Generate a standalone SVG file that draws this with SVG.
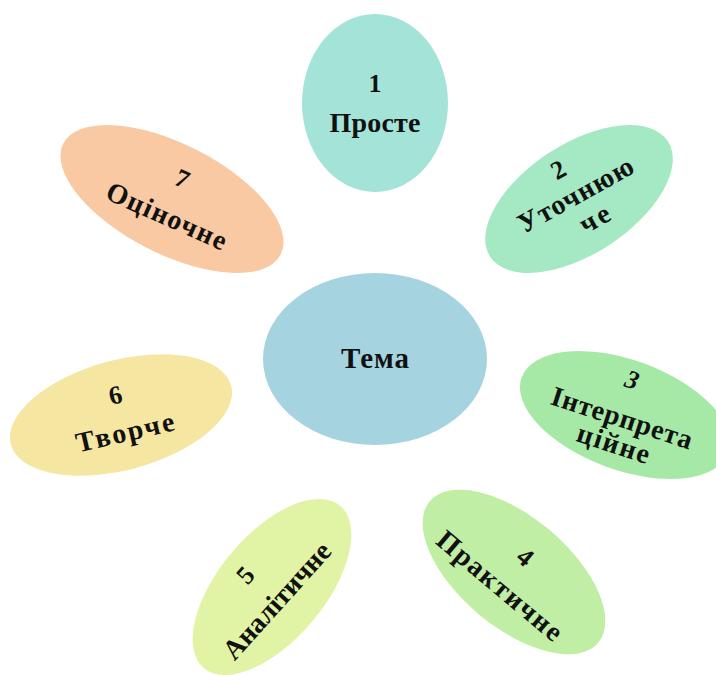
<svg xmlns="http://www.w3.org/2000/svg" width="716" height="675" viewBox="0 0 716 675">
<style>
text{font-family:"Liberation Serif","Times New Roman",serif;font-weight:bold;font-size:28px;fill:#111;text-anchor:middle}
text.n{font-size:26px}
</style>
<rect width="716" height="675" fill="#fff"/>
<g id="connectors"/>
<g id="center" transform="translate(375,359)">
<ellipse rx="112" ry="86" fill="#a6d3e0"/>
<text x="0" y="9" textLength="68" style="font-size:29px">Тема</text>
</g>
<g id="n1" transform="translate(375,103)">
<ellipse rx="73" ry="89" fill="#a4e4d8"/>
<text class="n" x="0" y="-11">1</text>
<text x="0" y="29" textLength="91">Просте</text>
</g>
<g id="n2" transform="translate(579,199)">
<ellipse rx="106" ry="55" transform="rotate(-33)" fill="#a4e8c4"/>
<g transform="rotate(-29)">
<text class="n" x="-4" y="-27">2</text>
<text x="-1" y="4" textLength="128">Уточнюю</text>
<text x="4" y="34" textLength="31">че</text>
</g>
</g>
<g id="n3" transform="translate(625,415)">
<ellipse rx="110" ry="55" transform="rotate(20)" fill="#a6e9a6"/>
<g transform="rotate(18)">
<text class="n" x="-4" y="-27" font-style="italic">3</text>
<text x="-2" y="13" textLength="147">Інтерпрета</text>
<text x="-2" y="40" textLength="75">ційне</text>
</g>
</g>
<g id="n4" transform="translate(514,572)">
<ellipse rx="110" ry="55" transform="rotate(40)" fill="#bfeea4"/>
<g transform="rotate(40)">
<text class="n" x="-1" y="-10">4</text>
<text x="-2" y="29" textLength="155">Практичне</text>
</g>
</g>
<g id="n5" transform="translate(272,587)">
<ellipse rx="106" ry="53" transform="rotate(-50)" fill="#e1f3a5"/>
<g transform="rotate(-48)">
<text class="n" x="-9" y="-19">5</text>
<text x="-7" y="22" textLength="147">Аналітичне</text>
</g>
</g>
<g id="n6" transform="translate(121,415)">
<ellipse rx="114" ry="55" transform="rotate(-15)" fill="#f5e6a2"/>
<g transform="rotate(-13)">
<text class="n" x="-1" y="-12">6</text>
<text x="0" y="27" textLength="100">Творче</text>
</g>
</g>
<g id="n7" transform="translate(172,199)">
<ellipse rx="122" ry="55" transform="rotate(27)" fill="#f8c9a2"/>
<g transform="rotate(24)">
<text class="n" x="1" y="-14">7</text>
<text x="2" y="27" textLength="129">Оціночне</text>
</g>
</g>
</svg>
